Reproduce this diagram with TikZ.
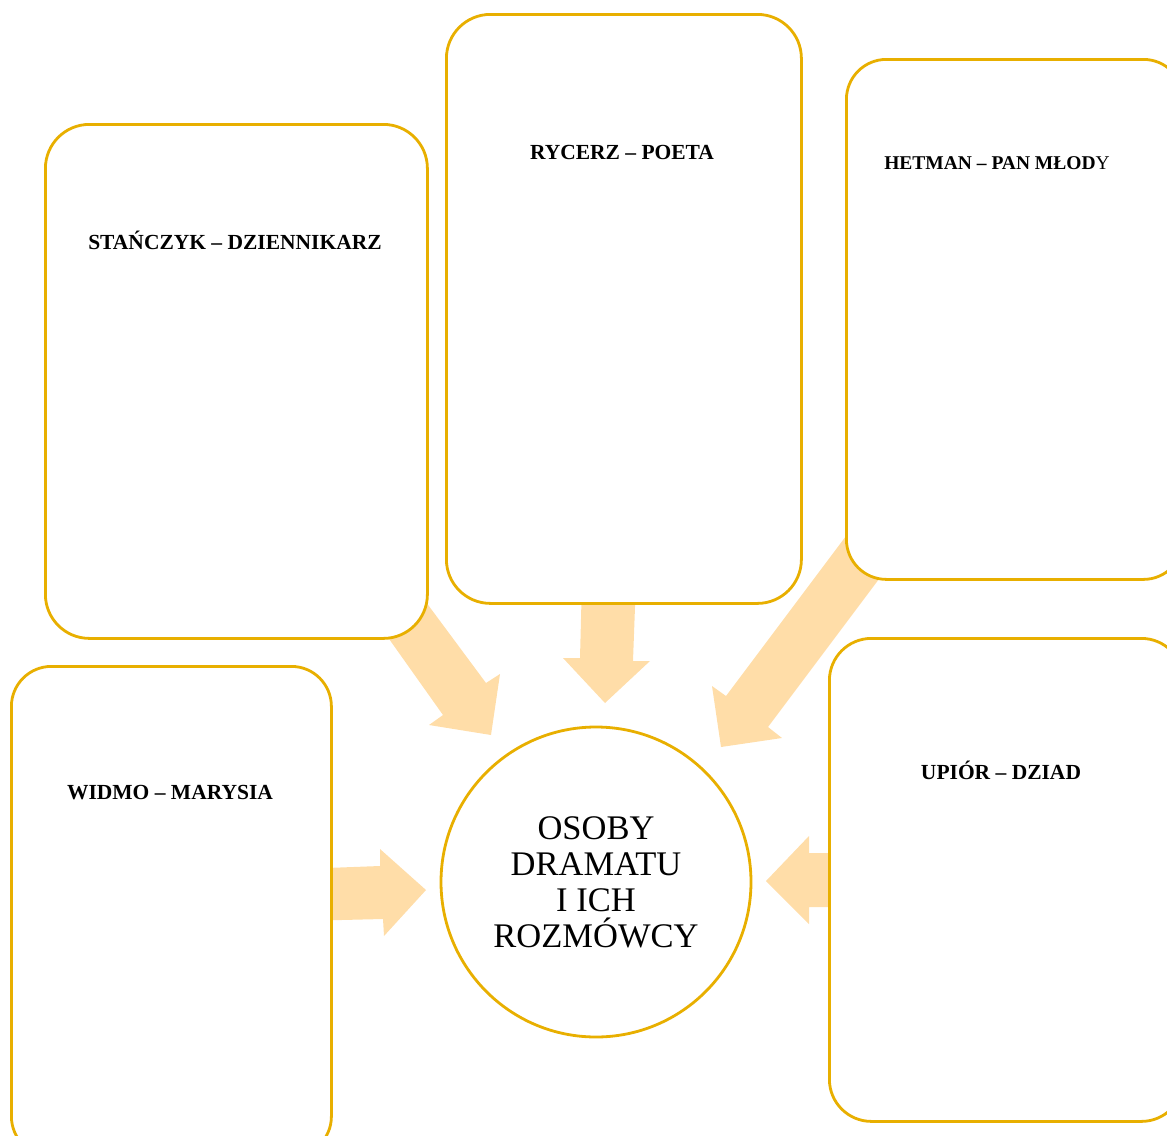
\documentclass[tikz,border=0pt]{standalone}
\usepackage{fontspec}
\setmainfont{Liberation Serif}
\definecolor{frame}{RGB}{232,175,0}
\definecolor{arrowfill}{RGB}{255,221,168}
\begin{document}
\begin{tikzpicture}[x=1pt,y=-1pt,
  box/.style={draw=frame, line width=2.8pt, fill=white, rounded corners=44pt},
  boxtext/.style={font=\fontsize{21.5}{24}\selectfont\bfseries, inner sep=0pt},
  blockarrow/.style={fill=arrowfill, draw=none}]
\useasboundingbox (0,0) rectangle (1167,1135);
\clip (0,0) rectangle (1167,1135);
% block arrows (tails hidden beneath the boxes)
\fill[blockarrow] (360,598) -- (443,715) -- (429,725) -- (491,735) -- (500,674) -- (486,683) -- (397,563) -- cycle;
\fill[blockarrow] (582,580) -- (580,658) -- (563,658) -- (605,703) -- (650,661) -- (633,661) -- (636,580) -- cycle;
\fill[blockarrow] (867,508) -- (726,696) -- (712,686) -- (721,747) -- (782,738) -- (768,727) -- (909,539) -- cycle;
\fill[blockarrow] (300,869) -- (380,866) -- (380,849) -- (426,890) -- (384,936) -- (383,919) -- (300,921) -- cycle;
\fill[blockarrow] (850,853) -- (809,853) -- (809,836) -- (766,881) -- (809,924) -- (809,907) -- (850,907) -- cycle;
% boxes
\node[box, minimum width=382pt, minimum height=514pt, anchor=north west] (stanczyk) at (44,123) {};
\node[box, minimum width=355pt, minimum height=589pt, anchor=north west] (rycerz) at (445,13) {};
\node[box, minimum width=337pt, minimum height=520pt, anchor=north west, rounded corners=40pt] (hetman) at (845,58) {};
\node[box, minimum width=320pt, minimum height=490pt, anchor=north west, rounded corners=40pt] (widmo) at (10,665) {};
\node[box, minimum width=354pt, minimum height=483pt, anchor=north west, rounded corners=42pt] (upior) at (828,637) {};
\node[draw=frame, line width=2.8pt, fill=white, circle, minimum size=310pt, inner sep=0pt] (osoby) at (596,882) {};
% texts
\node[boxtext] (t1) at (235,240) {STAŃCZYK – DZIENNIKARZ};
\node[boxtext] (t2) at (622,152) {RYCERZ – POETA};
\node[boxtext, font=\fontsize{19.5}{22}\selectfont\bfseries] (t3) at (997,163) {HETMAN – PAN MŁOD\mdseries Y};
\node[boxtext] (t4) at (170,793) {WIDMO – MARYSIA};
\node[boxtext] (t5) at (1001,770) {UPIÓR – DZIAD};
\node[font=\fontsize{34.5}{36}\selectfont, align=center, inner sep=0pt] (t6) at (596,882) {OSOBY\\DRAMATU\\I ICH\\ROZMÓWCY};
\end{tikzpicture}
\end{document}
